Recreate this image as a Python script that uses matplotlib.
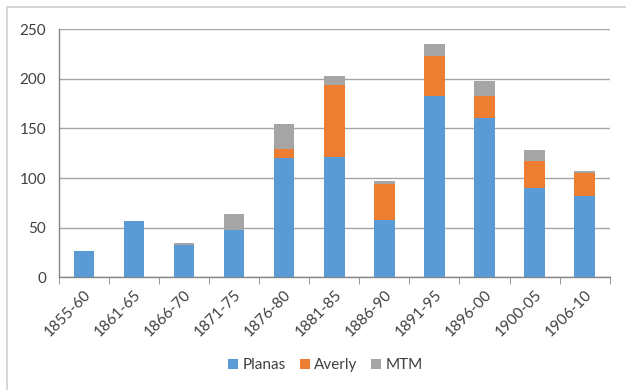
import numpy as np
import matplotlib.pyplot as plt
from matplotlib.patches import Rectangle

periods = ['1855-60', '1861-65', '1866-70', '1871-75', '1876-80', '1881-85',
           '1886-90', '1891-95', '1896-00', '1900-05', '1906-10']
planas = [27, 57, 33, 48, 120, 121, 58, 183, 161, 90, 82]
averly = [0, 0, 0, 0, 9, 73, 36, 40, 22, 27, 23]
mtm = [0, 0, 2, 16, 25, 9, 3, 12, 15, 11, 2]

colors = ['#5B9BD5', '#ED7D31', '#A5A5A5']

plt.rcParams['font.family'] = ['Lato', 'DejaVu Sans']

fig = plt.figure(figsize=(6.26, 3.9), dpi=100)
ax = fig.add_axes([0.094, 0.289, 0.880, 0.636])

# chart frame like the spreadsheet export
fig.patches.append(Rectangle((7 / 626, -0.05), 1.0, 1 - 7 / 390 + 0.05,
                             transform=fig.transFigure, fill=False,
                             edgecolor='#d0d0d0', linewidth=1.2))

x = np.arange(len(periods))
w = 0.41
bottom2 = np.array(planas)
bottom3 = bottom2 + np.array(averly)
ax.bar(x, planas, w, color=colors[0], label='Planas', zorder=3)
ax.bar(x, averly, w, bottom=bottom2, color=colors[1], label='Averly', zorder=3)
ax.bar(x, mtm, w, bottom=bottom3, color=colors[2], label='MTM', zorder=3)

ax.set_xlim(-0.5, len(periods) - 0.5)
ax.set_ylim(0, 250)
ax.set_yticks(range(0, 251, 50))
ax.yaxis.grid(True, color='#a6a6a6', linewidth=1.0, zorder=0)

ax.set_xticks(x)
ax.set_xticklabels(periods, rotation=45, ha='right', rotation_mode='anchor',
                   fontsize=11, color='#404040')
ax.set_xticks(np.arange(-0.5, len(periods)), minor=True)
ax.tick_params(axis='x', which='major', length=0, pad=7)
ax.tick_params(axis='x', which='minor', length=5, color='#868686', direction='out')
ax.tick_params(axis='y', length=0, labelsize=11, labelcolor='#404040', pad=9)

for s in ['top', 'right']:
    ax.spines[s].set_visible(False)
for s in ['left', 'bottom']:
    ax.spines[s].set_color('#868686')
    ax.spines[s].set_linewidth(1.0)

fig.legend(loc='center', bbox_to_anchor=(0.52, 0.064), ncol=3, frameon=False,
           fontsize=11, handlelength=0.65, handleheight=0.65, handletextpad=0.3,
           columnspacing=0.9, labelcolor='#404040')

fig.savefig('out.png', dpi=100)
